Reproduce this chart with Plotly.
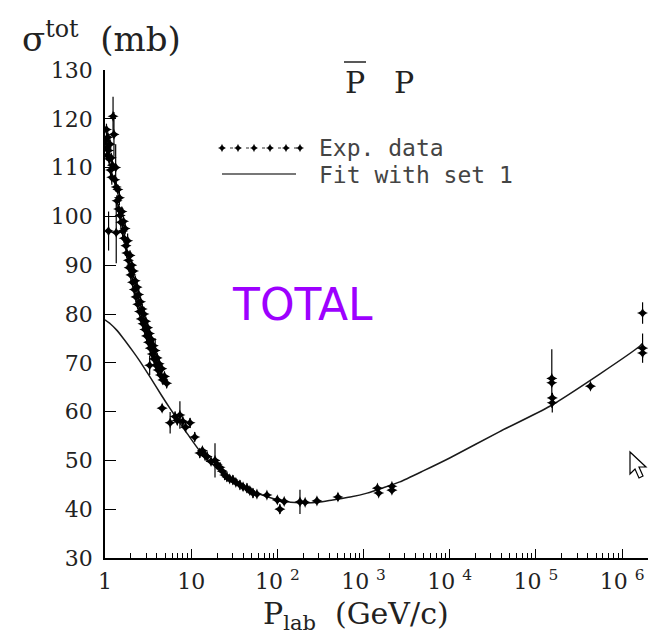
import plotly.graph_objects as go

# ---------------- data ----------------
# experimental pbar-p total cross sections: p_lab (GeV/c), sigma (mb), error (mb)
exp_p = [1.02, 1.04, 1.05, 1.06, 1.08, 1.10, 1.10, 1.12, 1.14, 1.16, 1.18, 1.20, 1.22, 1.24, 1.27,
         1.30, 1.33, 1.35, 1.35, 1.38, 1.41, 1.44, 1.47, 1.50, 1.53, 1.57, 1.60, 1.64, 1.67, 1.71,
         1.75, 1.79, 1.83, 1.87, 1.91, 1.95, 2.00, 2.04, 2.09, 2.14, 2.19, 2.24, 2.29, 2.35, 2.40,
         2.46, 2.52, 2.58, 2.64, 2.70, 2.76, 2.83, 2.90, 2.97, 3.04, 3.12, 3.20, 3.28, 3.30, 3.36,
         3.45, 3.54, 3.63, 3.72, 3.82, 3.92, 4.02, 4.12, 4.25, 4.40, 4.55, 4.70, 4.90, 5.20,
         4.6, 5.7, 6.5, 6.9, 7.4, 8.0, 8.6, 9.7, 11.0, 12.6, 13.5, 14.5, 15.3, 17.0, 18.9, 20.0,
         21.6, 23.0, 24.5, 26.0, 28.0, 30.5, 33.0, 36.8, 40.0, 44.4, 48.0, 52.1, 58.0, 75.7,
         100.0, 107.0, 120.0, 183.0, 210.0, 288.0, 505.0, 1450.0, 1500.0, 2135.0, 2135.0,
         1.53e5, 1.53e5, 1.55e5, 1.55e5, 4.3e5, 1.73e6, 1.73e6, 1.73e6]
exp_s = [115.5, 117.8, 114.0, 112.5, 116.2, 113.5, 97.0, 111.8, 114.8, 109.5, 112.0, 108.0, 110.5, 120.5, 116.8,
         107.5, 110.0, 106.0, 96.7, 103.2, 105.5, 101.5, 103.8, 100.2, 98.8, 101.0, 97.0, 99.0, 95.5, 97.5,
         94.0, 92.5, 95.0, 91.0, 89.5, 92.0, 88.0, 90.0, 86.5, 88.8, 85.0, 86.8, 83.5, 85.5, 82.0,
         84.0, 80.5, 82.5, 79.0, 81.0, 78.0, 80.0, 76.8, 78.5, 75.5, 77.2, 74.2, 76.0, 69.5, 73.0,
         74.8, 71.8, 73.5, 70.8, 72.5, 69.5, 71.0, 68.5, 69.8, 67.5, 68.8, 66.5, 67.2, 65.8,
         60.7, 57.7, 59.0, 58.2, 59.3, 58.0, 56.8, 57.7, 54.8, 51.5, 52.0, 51.0, 50.8, 49.8, 50.0, 49.2,
         48.6, 47.8, 47.0, 46.6, 46.2, 46.0, 45.5, 45.0, 44.6, 44.3, 43.8, 43.3, 43.1, 42.9,
         41.9, 40.0, 41.6, 41.5, 41.4, 41.7, 42.5, 44.3, 43.3, 44.7, 43.9,
         66.8, 65.9, 62.8, 61.8, 65.2, 80.2, 73.0, 72.0]
exp_e = [1.0, 1.2, 0.8, 1.0, 1.0, 1.0, 4.0, 1.5, 1.0, 1.2, 1.0, 1.5, 1.0, 4.0, 4.6,
         1.0, 4.8, 1.0, 6.3, 1.2, 1.0, 1.0, 1.5, 1.0, 1.2, 1.0, 1.5, 1.0, 1.0, 1.2,
         1.0, 1.0, 1.5, 1.0, 1.0, 1.0, 1.2, 1.0, 1.0, 1.5, 1.0, 1.0, 1.2, 1.0, 1.0,
         1.5, 1.0, 1.0, 1.2, 1.0, 1.0, 1.5, 1.0, 1.0, 1.2, 1.0, 1.0, 1.5, 2.0, 1.0,
         1.0, 1.2, 1.0, 1.5, 2.5, 1.0, 1.0, 1.0, 1.0, 1.0, 1.0, 1.0, 1.0, 1.0,
         0.8, 2.2, 1.0, 1.0, 2.8, 1.0, 1.0, 1.0, 1.0, 1.0, 0.8, 1.0, 1.0, 0.8, 3.5, 1.0,
         1.0, 0.8, 1.0, 1.0, 0.8, 1.0, 0.8, 1.0, 0.8, 1.0, 0.8, 1.0, 0.6, 0.6,
         0.8, 1.0, 0.6, 2.5, 0.6, 0.6, 0.8, 0.6, 0.6, 0.6, 0.6,
         6.0, 0.8, 1.0, 2.0, 0.3, 2.2, 3.0, 1.0]

# fit with set 1
fit_p = [1.0, 1.15, 1.35, 1.6, 2.1, 2.5, 3.3, 4.5, 5.7, 7.0, 9.0, 12.5, 20, 30, 48, 75, 115, 180,
         300, 440, 700, 1100, 1700, 2640, 5000, 1.0e4, 3.8e4, 1.45e5, 5.5e5, 1.6e6, 1.73e6]
fit_s = [78.8, 78.0, 76.8, 75.2, 72.4, 70.5, 67.2, 63.4, 60.6, 58.3, 55.5, 52.0, 48.3, 45.9, 43.9,
         42.6, 41.7, 41.3, 41.4, 41.9, 42.5, 43.3, 44.4, 45.6, 47.9, 50.5, 55.9, 61.1, 67.7,
         73.4, 74.0]

x_tickvals = [1, 10, 100, 1000, 1e4, 1e5, 1e6]
x_ticktext = ["1", "10", "10 <sup>2</sup>", "10 <sup>3</sup>", "10 <sup>4</sup>",
              "10 <sup>5</sup>", "10 <sup>6</sup>"]

# legend sample positions (pixel frame of the overlay axis)
leg_x = [222, 238, 254, 270, 286, 300]
leg_y = [148] * 6

SERIF = "DejaVu Serif"
L, R, T, B = 105, 648, 70, 558


def px(x):
    return (x - L) / (R - L)


def py(y):
    return (B - y) / (B - T)


fig = go.Figure()

fig.add_trace(go.Scatter(
    x=fit_p, y=fit_s, mode="lines", line=dict(color="#1a1a1a", width=1.5, shape="spline", smoothing=0.6),
    hoverinfo="skip", showlegend=False))

fig.add_trace(go.Scatter(
    x=exp_p, y=exp_s, mode="markers",
    marker=dict(symbol="star-diamond", size=8, color="black", line=dict(width=0)),
    error_y=dict(type="data", array=exp_e, color="black", thickness=1.2, width=0),
    showlegend=False))

# legend sample on the pixel overlay axis
fig.add_trace(go.Scatter(
    x=leg_x, y=leg_y, xaxis="x2", yaxis="y2", mode="lines+markers",
    line=dict(color="#333", width=1.2, dash="3px,5px"),
    marker=dict(symbol="star-diamond", size=6, color="black"),
    showlegend=False, hoverinfo="skip"))

fig.update_layout(
    width=659, height=635,
    margin=dict(l=L, r=659 - R, t=T, b=635 - B),
    plot_bgcolor="white", paper_bgcolor="white",
    showlegend=False,
    xaxis=dict(
        type="log", range=[0, 6.30103],
        tickvals=x_tickvals, ticktext=x_ticktext,
        ticks="inside", ticklen=9, tickwidth=1.2, tickcolor="black",
        minor=dict(ticks="inside", ticklen=5, tickwidth=1, tickcolor="black", dtick="D1", showgrid=False),
        showline=True, linecolor="black", linewidth=1.5,
        showgrid=False, zeroline=False,
        tickfont=dict(family=SERIF, size=22, color="#222"),
        ticklabelstandoff=3,
    ),
    yaxis=dict(
        range=[30, 130], dtick=10, tick0=30,
        ticks="inside", ticklen=11, tickwidth=1.2, tickcolor="black",
        showline=True, linecolor="black", linewidth=1.5,
        showgrid=False, zeroline=False,
        tickfont=dict(family=SERIF, size=22, color="#222"),
        ticklabelstandoff=6,
    ),
    xaxis2=dict(overlaying="x", range=[L, R], visible=False, domain=[0, 1]),
    yaxis2=dict(overlaying="y", range=[B, T], visible=False, domain=[0, 1]),
)


def note(text, x, y, size, family, color="#222", anchor="center"):
    return dict(text=text, x=px(x), y=py(y), xref="paper", yref="paper",
                xanchor=anchor, yanchor="middle", showarrow=False,
                font=dict(family=family, size=size, color=color))


NB = "\u00a0"
ann = [
    note("σ<sup>tot</sup>" + NB * 2 + "(mb)", 20, 37, 34, SERIF, anchor="left"),
    note("P<sub>lab</sub>" + NB * 2 + "(GeV/c)", 356, 615, 30, SERIF),
    note("P", 355, 82, 30, SERIF),
    note("P", 404, 82, 30, SERIF),
    note("Exp. data", 317, 148, 23, "DejaVu Sans Mono", color="#444", anchor="left"),
    note("Fit with set 1", 317, 175, 23, "DejaVu Sans Mono", color="#444", anchor="left"),
    note("TOTAL", 302.5, 304, 44, "DejaVu Sans", color="#9D00FF"),
]
fig.update_layout(annotations=ann)

shapes = [
    # overbar of the antiproton
    dict(type="line", xref="paper", yref="paper", x0=px(344), x1=px(366), y0=py(62), y1=py(62),
         line=dict(color="#222", width=1.5)),
    # legend solid line
    dict(type="line", xref="paper", yref="paper", x0=px(222), x1=px(296), y0=py(174), y1=py(174),
         line=dict(color="#777", width=2)),
    # mouse cursor
    dict(type="path", xref="x2", yref="y2",
         path="M630,452 L630,474 L635,469 L639,478 L643,476 L639,467 L646,467 Z",
         fillcolor="white", line=dict(color="black", width=1.2)),
]
fig.update_layout(shapes=shapes)

fig.write_html("out.html")
